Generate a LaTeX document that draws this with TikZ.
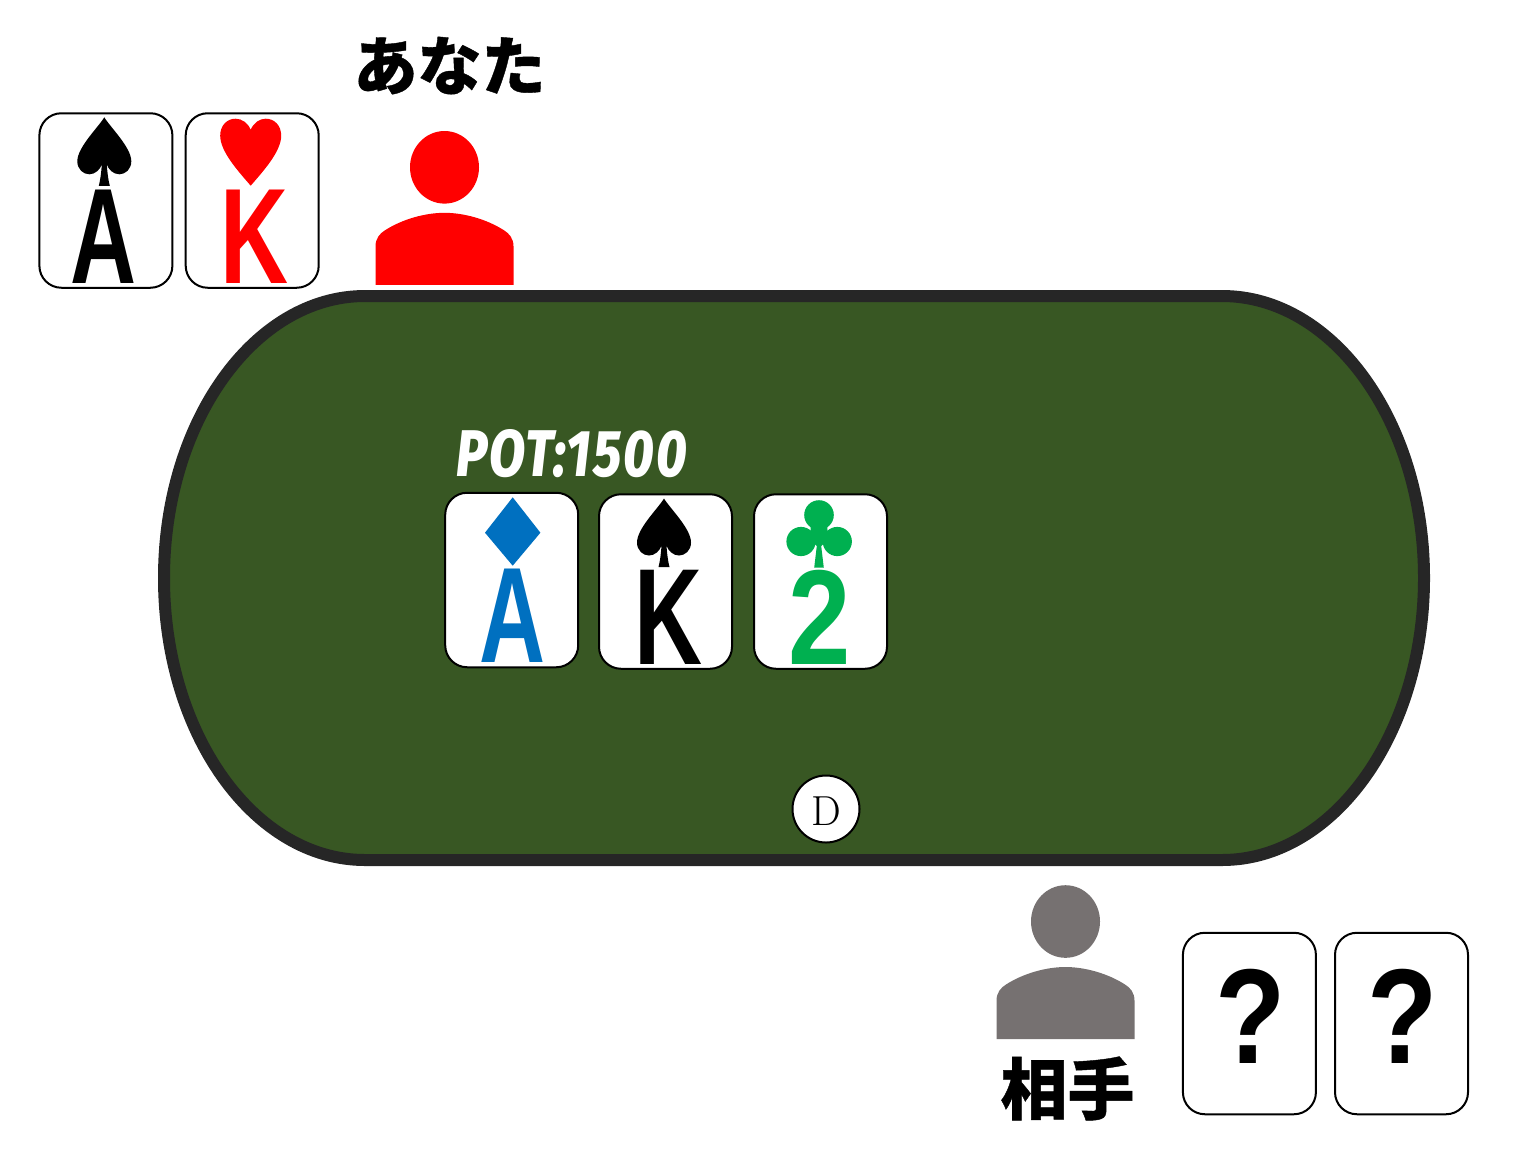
\documentclass[tikz,border=0pt]{standalone}
\usepackage{fontspec}
\setmainfont{Latin Modern Roman}
\newfontfamily\cardfont{Liberation Sans}[BoldFont={Liberation Sans Bold}]
\newfontfamily\cjkfont{Noto Sans CJK JP Black}[FakeBold=0.6]
\newfontfamily\potfont{Fira Sans ExtraBold Italic}[LetterSpace=4]
\definecolor{tablegreen}{HTML}{385723}
\definecolor{tablerim}{HTML}{262626}
\definecolor{diamondblue}{HTML}{0070C0}
\definecolor{clubgreen}{HTML}{00B050}
\definecolor{rivalgray}{HTML}{767171}
\tikzset{
   spadeglyph/.pic={
      \fill[pic actions] (0,0) .. controls (-6,10) and (-27,30) .. (-27,44)
         .. controls (-27,52) and (-21,57) .. (-15,57)
         .. controls (-9,57) and (-4,52) .. (-2.5,47)
         .. controls (-3,55) and (-4,63) .. (-5.5,68.5) -- (5.5,68.5)
         .. controls (4,63) and (3,55) .. (2.5,47)
         .. controls (4,52) and (9,57) .. (15,57)
         .. controls (21,57) and (27,52) .. (27,44)
         .. controls (27,30) and (6,10) .. (0,0) -- cycle;
   },
   heartglyph/.pic={
      \fill[pic actions] (0,11) .. controls (-3,4) and (-9,0) .. (-15,0)
         .. controls (-24,0) and (-30.5,7) .. (-30.5,17)
         .. controls (-30.5,33) and (-12,53) .. (0,67)
         .. controls (12,53) and (30.5,33) .. (30.5,17)
         .. controls (30.5,7) and (24,0) .. (15,0)
         .. controls (9,0) and (3,4) .. (0,11) -- cycle;
   },
   diamondglyph/.pic={
      \fill[pic actions] (0,0) -- (-27.7,35.4) -- (0,68.4) -- (27.7,35.4) -- cycle;
   },
   clubglyph/.pic={
      \fill[pic actions] (0,15) circle (14.8) (-18,41.5) circle (14.6) (18.3,41.5) circle (14.6);
      \fill[pic actions] (-8,20) -- (8,20) -- (9,40) -- (2.2,46) -- (4.8,67.7) -- (-4.8,67.7) -- (-2.2,46) -- (-9,40) -- cycle;
   },
   personglyph/.pic={
      \fill[pic actions] (0,0) ellipse (34.5 and 36.3);
      \fill[pic actions] (-69,117.5) -- (-69,79) .. controls (-69,71) and (-64.5,66) .. (-59.5,63)
         .. controls (-42.5,52) and (-19.5,45.5) .. (0,45.5)
         .. controls (19.5,45.5) and (42.5,52) .. (59.5,63)
         .. controls (64.5,66) and (69,71) .. (69,79) -- (69,117.5) -- cycle;
   }
}

\begin{document}
\begin{tikzpicture}[x=1pt,y=-1pt]
   \tikzstyle{cardbox}=[draw=black, fill=white, line width=2pt, rounded corners=22pt, inner sep=0pt, minimum width=133pt]
   \tikzstyle{holecard}=[cardbox, minimum height=174.5pt]
   \tikzstyle{backcard}=[cardbox, minimum height=181.5pt]
   \tikzstyle{rank}=[inner sep=0pt, font=\cardfont\bfseries\fontsize{130}{130}\selectfont]
   \tikzstyle{caption}=[inner sep=0pt, text=black, font=\cjkfont]
   \useasboundingbox (0,0) rectangle (1525,1163);

\path[draw=tablerim, fill=tablegreen, line width=12pt] (365,296) -- (1222,296)
    arc[start angle=-90, end angle=90, x radius=202, y radius=282] -- (365,860)
    arc[start angle=90, end angle=270, x radius=201, y radius=282] -- cycle;

\node[caption, font=\cjkfont\fontsize{64}{64}\selectfont] (you) at (449.5,65.5) {あなた};
\pic[fill=red] (youicon) at (444.5,167.3) {personglyph};
\node[holecard] (youa) at (105.9,200.5) {};
\node[holecard] (youk) at (252.2,200.5) {};
\pic[fill=black] (youaspade) at (104.3,117.3) {spadeglyph};
\pic[fill=red] (youkheart) at (250.7,118.7) {heartglyph};
\node[rank, text=black] (youarank) at (103.7,236.7) {\resizebox{66pt}{93.5pt}{A}};
\node[rank, text=red] (youkrank) at (254,236.7) {\resizebox{68pt}{93.5pt}{K}};

\node[inner sep=0pt, text=white, font=\potfont\fontsize{50}{50}\selectfont] (pot) at (571.5,453.5) {\resizebox{231pt}{47pt}{POT:1500}};
\node[holecard] (boarda) at (511.7,580) {};
\node[holecard] (boardk) at (665.5,581.5) {};
\node[holecard] (board2) at (820.5,581.5) {};
\pic[fill=diamondblue] (boardadiamond) at (512.7,497.3) {diamondglyph};
\pic[fill=black] (boardkspade) at (664,498.5) {spadeglyph};
\pic[fill=clubgreen] (board2club) at (819,500) {clubglyph};
\node[rank, text=diamondblue] (boardarank) at (512.7,615.5) {\resizebox{66pt}{93.5pt}{A}};
\node[rank, text=black] (boardkrank) at (668,617.8) {\resizebox{68pt}{94.3pt}{K}};
\node[rank, text=clubgreen] (board2rank) at (820,617.8) {\resizebox{62.4pt}{94.3pt}{2}};

\node[draw=black, fill=white, circle, line width=2pt, minimum size=67pt, inner sep=0pt, font=\fontsize{42}{42}\selectfont] (dealer) at (826,809) {\raisebox{-16.8pt}[0pt][0pt]{D}};

\pic[fill=rivalgray] (rivalicon) at (1065.5,921.5) {personglyph};
\node[caption, font=\cjkfont\fontsize{67}{67}\selectfont] (rival) at (1067.5,1088.5) {相手};
\node[backcard] (rivalx) at (1249.4,1023.5) {};
\node[backcard] (rivaly) at (1401.5,1023.5) {};
\node[rank, text=black] (rivalxrank) at (1251,1016.2) {\resizebox{70.3pt}{94.3pt}{?}};
\node[rank, text=black] (rivalyrank) at (1402.7,1016.2) {\resizebox{70.3pt}{94.3pt}{?}};

\end{tikzpicture}
\end{document}
